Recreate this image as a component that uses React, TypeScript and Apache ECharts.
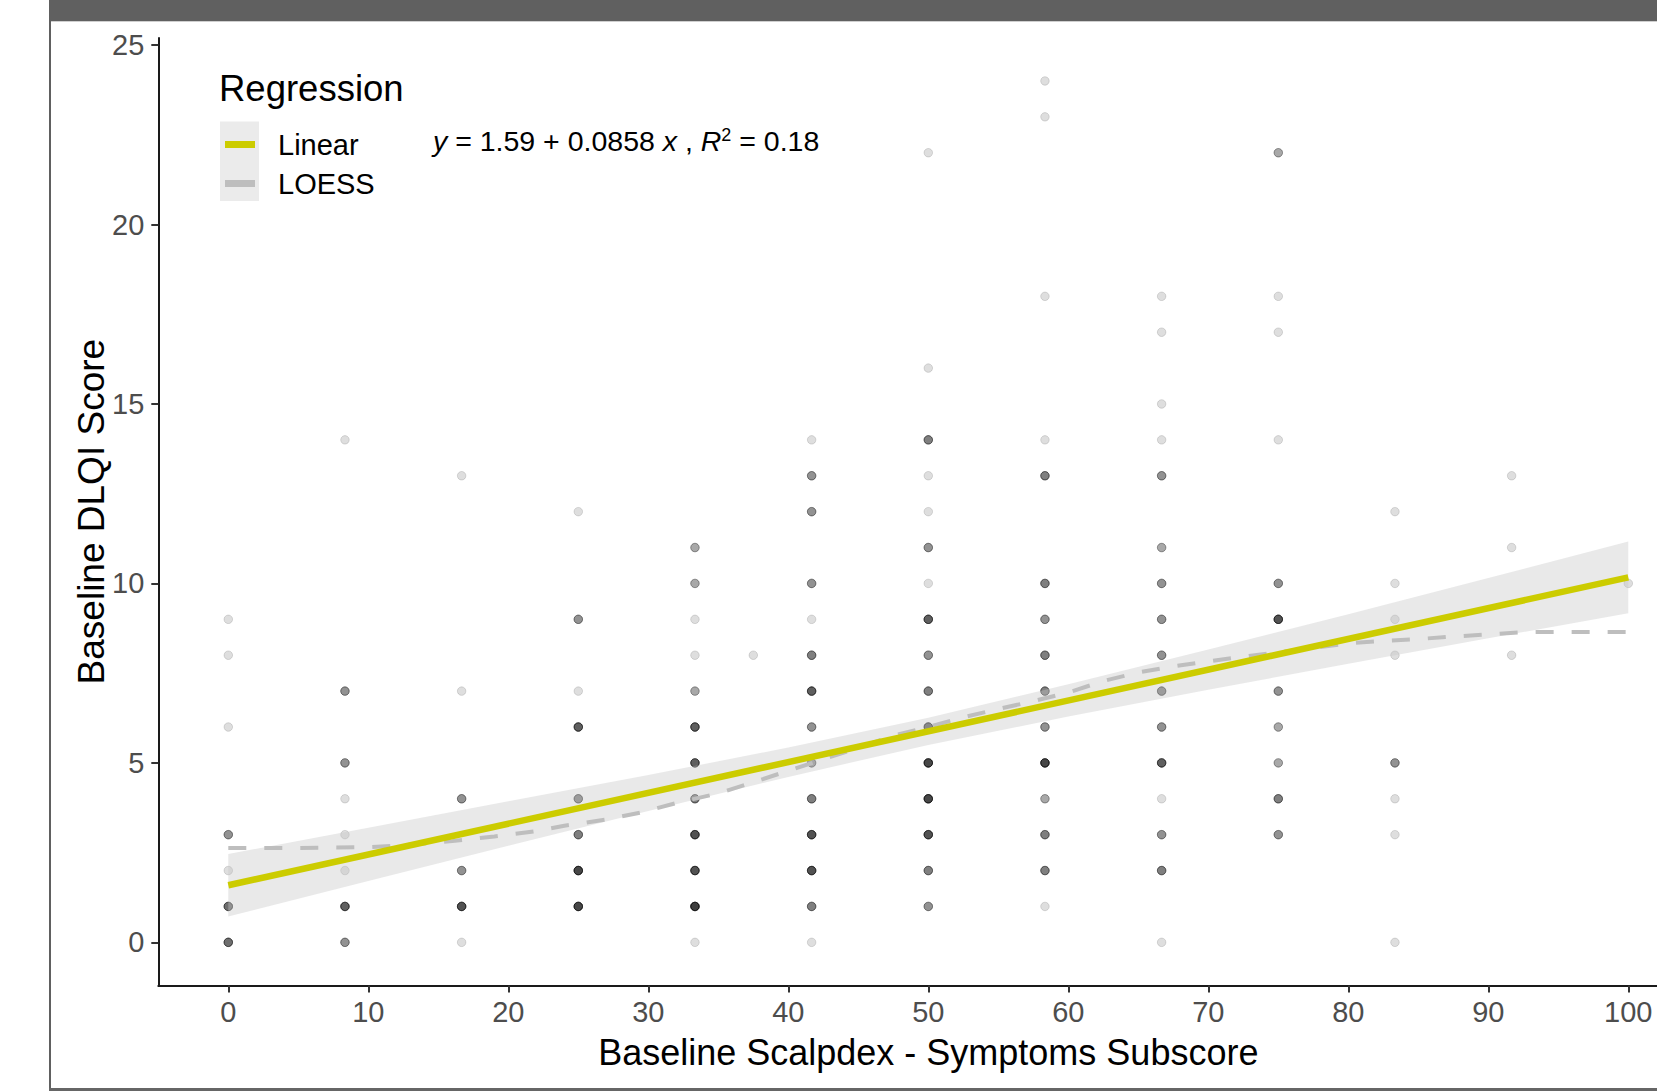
import React, { useEffect, useRef } from "react";
import * as echarts from "echarts";

// ---------- axis ticks ----------
const xTicks = [0, 10, 20, 30, 40, 50, 60, 70, 80, 90, 100];
const yTicks = [0, 5, 10, 15, 20, 25];

// ---------- observed points: [DLQI score, number of overlapping patients] per Scalpdex value ----------
const col0: number[][] = [[9, 1], [8, 1], [6, 1], [3, 4], [2, 1], [1, 6], [0, 6]];
const col8: number[][] = [[14, 1], [7, 4], [5, 4], [4, 1], [3, 1], [2, 1], [1, 7], [0, 4]];
const col17: number[][] = [[13, 1], [7, 1], [4, 4], [2, 4], [1, 8], [0, 1]];
const col25: number[][] = [[12, 1], [9, 4], [7, 1], [6, 7], [4, 5], [3, 5], [2, 9], [1, 9]];
const col33: number[][] = [[11, 3], [10, 3], [9, 1], [8, 1], [7, 3], [6, 7], [5, 7], [4, 5], [3, 8], [2, 8], [1, 10], [0, 1]];
const col37: number[][] = [[8, 1]];
const col42: number[][] = [[14, 1], [13, 4], [12, 4], [10, 4], [9, 1], [8, 5], [7, 7], [6, 4], [5, 4], [4, 5], [3, 8], [2, 8], [1, 5], [0, 1]];
const col50: number[][] = [[22, 1], [16, 1], [14, 5], [13, 1], [12, 1], [11, 4], [10, 1], [9, 7], [8, 4], [7, 5], [6, 7], [5, 9], [4, 9], [3, 8], [2, 5], [1, 4]];
const col58: number[][] = [[24, 1], [23, 1], [18, 1], [14, 1], [13, 5], [10, 5], [9, 4], [8, 5], [7, 5], [6, 4], [5, 9], [4, 3], [3, 5], [2, 5], [1, 1]];
const col67: number[][] = [[18, 1], [17, 1], [15, 1], [14, 1], [13, 4], [11, 3], [10, 4], [9, 4], [8, 4], [7, 5], [6, 4], [5, 7], [4, 1], [3, 4], [2, 5], [0, 1]];
const col75: number[][] = [[22, 3], [18, 1], [17, 1], [14, 1], [10, 4], [9, 8], [7, 4], [6, 3], [5, 3], [4, 5], [3, 4]];
const col83: number[][] = [[12, 1], [10, 1], [9, 1], [8, 1], [5, 4], [4, 1], [3, 1], [0, 1]];
const col92: number[][] = [[13, 1], [11, 1], [8, 1]];
const col100: number[][] = [[10, 1]];

const columnX = [0, 8.333, 16.667, 25, 33.333, 37.5, 41.667, 50, 58.333, 66.667, 75, 83.333, 91.667, 100];
const columnPoints = [col0, col8, col17, col25, col33, col37, col42, col50, col58, col67, col75, col83, col92, col100];

// ---------- linear fit and its confidence band ----------
const linearX = [0, 100];
const linearY = [1.59, 10.17];
const bandX = [0, 10, 20, 30, 40, 50, 60, 70, 80, 90, 100];
const bandLower = [0.72, 1.71, 2.69, 3.66, 4.61, 5.5, 6.29, 7.04, 7.76, 8.47, 9.17];
const bandUpper = [2.46, 3.19, 3.93, 4.66, 5.43, 6.26, 7.19, 8.16, 9.14, 10.15, 11.17];

// ---------- LOESS curve ----------
const loessX = [0, 5, 10, 13, 16, 19, 22, 24, 27, 29.5, 32, 35, 37.5, 40, 42.5, 45, 47.5, 50, 52.5, 55, 57.5, 60, 62.5, 65, 67.5, 70, 72.5, 75, 77.5, 80, 82.5, 85, 87.5, 90, 92.5, 95, 97.5, 100];
const loessY = [2.63, 2.63, 2.65, 2.72, 2.82, 2.95, 3.1, 3.25, 3.42, 3.62, 3.88, 4.15, 4.46, 4.78, 5.1, 5.42, 5.76, 6.0, 6.27, 6.5, 6.72, 6.96, 7.28, 7.52, 7.69, 7.83, 7.96, 8.08, 8.2, 8.33, 8.4, 8.45, 8.52, 8.58, 8.64, 8.65, 8.65, 8.65];

const FONT = "'Liberation Sans', Arial, Helvetica, sans-serif";

export default function App() {
  const ref = useRef<HTMLDivElement>(null);

  useEffect(() => {
    document.body.style.margin = "0";
    if (!ref.current) return;
    const chart = echarts.init(ref.current, undefined, { renderer: "svg" });

    const scatterData: number[][] = [];
    columnX.forEach((x, i) => {
      columnPoints[i].forEach(([y, n]) => {
        for (let k = 0; k < n; k++) scatterData.push([x, y]);
      });
    });
    const bandData = bandX.map((x, i) => [x, bandLower[i], bandUpper[i]]);
    const linearData = linearX.map((x, i) => [x, linearY[i]]);
    const loessData = loessX.map((x, i) => [x, loessY[i]]);

    const option: any = {
      animation: false,
      backgroundColor: "#ffffff",
      textStyle: { fontFamily: FONT },
      grid: {
        left: 158.3,
        top: 37.9,
        right: -41.3,
        bottom: 105.6,
        containLabel: false,
        outerBoundsMode: "none",
      },
      title: {
        text: "Regression",
        left: 219,
        top: 70,
        padding: 0,
        textStyle: { fontSize: 36.5, fontWeight: "normal", color: "#000", fontFamily: FONT },
      },
      legend: {
        orient: "vertical",
        left: 225,
        top: 130,
        padding: 0,
        itemWidth: 30,
        itemHeight: 7,
        itemGap: 10,
        selectedMode: false,
        textStyle: { fontSize: 29, color: "#000", fontFamily: FONT, padding: [0, 0, 0, 18] },
        data: [
          { name: "Linear", icon: "rect", itemStyle: { color: "#cccc00" } },
          { name: "LOESS", icon: "rect", itemStyle: { color: "#bebebe" } },
        ],
        z: 10,
      },
      xAxis: {
        type: "value",
        min: -5,
        max: 105,
        name: "Baseline Scalpdex - Symptoms Subscore",
        nameLocation: "middle",
        nameGap: 49,
        nameMoveOverlap: false,
        nameTextStyle: { fontSize: 36, color: "#000", fontFamily: FONT },
        axisLine: { show: true, onZero: false, lineStyle: { color: "#1a1a1a", width: 2 } },
        axisTick: { show: true, length: 7, customValues: xTicks, lineStyle: { color: "#333", width: 2 } },
        axisLabel: { show: true, customValues: xTicks, fontSize: 29, color: "#4d4d4d", margin: 12, fontFamily: FONT },
        splitLine: { show: false },
      },
      yAxis: {
        type: "value",
        min: -1.2,
        max: 25.2,
        name: "Baseline DLQI Score",
        nameLocation: "middle",
        nameRotate: 90,
        nameGap: 48,
        nameMoveOverlap: false,
        nameTextStyle: { fontSize: 37, color: "#000", fontFamily: FONT },
        axisLine: { show: true, onZero: false, lineStyle: { color: "#1a1a1a", width: 2 } },
        axisTick: { show: true, length: 7, customValues: yTicks, lineStyle: { color: "#333", width: 2 } },
        axisLabel: { show: true, customValues: yTicks, fontSize: 29, color: "#4d4d4d", margin: 14, fontFamily: FONT },
        splitLine: { show: false },
      },
      graphic: [
        { type: "rect", shape: { x: 50, y: 0, width: 1607, height: 21 }, style: { fill: "#606060" }, z: 0, silent: true },
        { type: "rect", shape: { x: 50, y: 21, width: 1607, height: 1 }, style: { fill: "#cfcfcf" }, z: 0, silent: true },
        { type: "rect", shape: { x: 49, y: 0, width: 2, height: 1091 }, style: { fill: "#606060" }, z: 0, silent: true },
        { type: "rect", shape: { x: 49, y: 1088, width: 1608, height: 3 }, style: { fill: "#666666" }, z: 0, silent: true },
        { type: "rect", shape: { x: 220, y: 121.5, width: 39, height: 79.5 }, style: { fill: "#ebebeb" }, z: 0, silent: true },
        {
          type: "text",
          x: 433,
          y: 140.6,
          z: 10,
          silent: true,
          style: {
            text: "{i|y} = 1.59 + 0.0858 {i|x} , {i|R}{s|2} = 0.18",
            fill: "#000",
            fontSize: 28.5,
            fontFamily: FONT,
            verticalAlign: "middle",
            rich: {
              i: { fontStyle: "italic", fontSize: 28.5, fontFamily: FONT, fill: "#000" },
              s: { fontSize: 18, fontFamily: FONT, fill: "#000", verticalAlign: "top", padding: [0, 0, 10, 0] },
            },
          },
        },
      ],
      series: [
        {
          name: "points",
          type: "scatter",
          data: scatterData,
          symbol: "circle",
          symbolSize: 8.5,
          silent: true,
          z: 1,
          itemStyle: { color: "rgba(0,0,0,0.16)", borderColor: "rgba(0,0,0,0.16)", borderWidth: 1 },
        },
        {
          name: "band",
          type: "custom",
          data: bandData,
          silent: true,
          z: 2,
          encode: { x: 0, y: [1, 2] },
          renderItem: (params: any, api: any) => {
            if (params.dataIndex !== 0) return null;
            const upper = bandX.map((x, i) => api.coord([x, bandUpper[i]]));
            const lower = bandX.map((x, i) => api.coord([x, bandLower[i]])).reverse();
            return {
              type: "polygon",
              shape: { points: upper.concat(lower) },
              style: { fill: "rgba(200,200,200,0.4)" },
            };
          },
        },
        {
          name: "LOESS",
          type: "line",
          data: loessData,
          symbol: "none",
          silent: true,
          z: 3,
          itemStyle: { color: "#bebebe" },
          lineStyle: { color: "#bebebe", width: 4, type: [18, 18] },
        },
        {
          name: "Linear",
          type: "line",
          data: linearData,
          symbol: "none",
          silent: true,
          z: 4,
          itemStyle: { color: "#cccc00" },
          lineStyle: { color: "#cccc00", width: 6.5 },
        },
      ],
    };

    chart.setOption(option);
    return () => chart.dispose();
  }, []);

  return (
    <div
      ref={ref}
      style={{ position: "absolute", left: 0, top: 0, width: 1657, height: 1091, background: "#fff" }}
    />
  );
}
